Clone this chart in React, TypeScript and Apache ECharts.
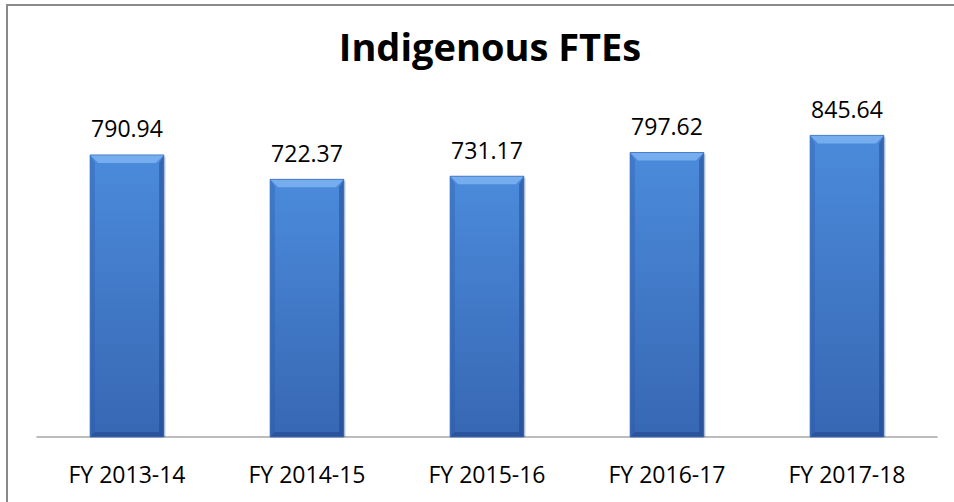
import React, { useEffect, useRef } from "react";
import * as echarts from "echarts";

const categories = ["FY 2013-14", "FY 2014-15", "FY 2015-16", "FY 2016-17", "FY 2017-18"];
const values = [790.94, 722.37, 731.17, 797.62, 845.64];
const titleText = "Indigenous FTEs";

const FONT = "'Open Sans', 'Noto Sans', sans-serif";

export default function App() {
  const ref = useRef<HTMLDivElement>(null);
  useEffect(() => {
    document.body.style.margin = "0";
    const chart = echarts.init(ref.current!, undefined, { renderer: "svg" });
    const bevel = 8;
    chart.setOption({
      animation: false,
      backgroundColor: "#ffffff",
      title: {
        text: titleText,
        left: 485,
        top: 22,
        textAlign: "center",
        textStyle: { fontFamily: FONT, fontWeight: "bold", fontSize: 38, color: "#000" },
      },
      graphic: [
        {
          type: "line",
          shape: { x1: 7, y1: 5, x2: 954, y2: 5 },
          style: { stroke: "#8a8a8a", lineWidth: 2 },
          silent: true,
        },
        {
          type: "line",
          shape: { x1: 7, y1: 4, x2: 7, y2: 502 },
          style: { stroke: "#8a8a8a", lineWidth: 2 },
          silent: true,
        },
      ],
      grid: { left: 37, right: 17, top: 116, bottom: 65 },
      xAxis: {
        type: "category",
        data: categories,
        axisLine: { show: true, lineStyle: { color: "#a6a6a6", width: 1.5 } },
        axisTick: { show: false },
        axisLabel: { fontFamily: FONT, fontSize: 23, color: "#000", margin: 25 },
      },
      yAxis: {
        type: "value",
        min: 0,
        max: 900,
        show: false,
        splitLine: { show: false },
      },
      series: [
        {
          type: "custom",
          data: values.map((v, i) => [i, v]),
          encode: { x: 0, y: 1 },
          renderItem: (params: any, api: any) => {
            const idx = api.value(0);
            const val = api.value(1);
            const top = api.coord([idx, val]);
            const base = api.coord([idx, 0]);
            const bw = api.size([1, 0])[0] * 0.41;
            const x0 = top[0] - bw / 2;
            const x1 = top[0] + bw / 2;
            const y0 = top[1];
            const y1 = base[1];
            const b = bevel;
            return {
              type: "group",
              children: [
                {
                  type: "rect",
                  shape: { x: x0 + 2, y: y0 + 2, width: bw, height: y1 - y0 - 2 },
                  style: { fill: "rgba(0,0,0,0.12)" },
                },
                {
                  type: "rect",
                  shape: { x: x0, y: y0, width: bw, height: y1 - y0 },
                  style: {
                    fill: new echarts.graphic.LinearGradient(0, 0, 0, 1, [
                      { offset: 0, color: "#4b8bdb" },
                      { offset: 1, color: "#3767b3" },
                    ]),
                  },
                },
                {
                  type: "polygon",
                  shape: { points: [[x0, y0], [x1, y0], [x1 - b, y0 + b], [x0 + b, y0 + b]] },
                  style: { fill: "#76adef" },
                },
                {
                  type: "polygon",
                  shape: { points: [[x0, y0], [x0 + b * 0.6, y0 + b], [x0 + b * 0.6, y1 - 4], [x0, y1]] },
                  style: { fill: "rgba(40,90,170,0.35)" },
                },
                {
                  type: "polygon",
                  shape: { points: [[x1, y0], [x1 - b * 0.6, y0 + b], [x1 - b * 0.6, y1 - 4], [x1, y1]] },
                  style: { fill: "rgba(25,60,130,0.45)" },
                },
                {
                  type: "polygon",
                  shape: { points: [[x0, y1], [x1, y1], [x1 - 5, y1 - 5], [x0 + 5, y1 - 5]] },
                  style: { fill: "rgba(25,55,120,0.4)" },
                },
                {
                  type: "rect",
                  shape: { x: x0, y: y0, width: bw, height: y1 - y0 },
                  style: { fill: "none", stroke: "#3a6fbf", lineWidth: 0.8 },
                },
                {
                  type: "text",
                  x: top[0],
                  y: y0 - 15,
                  style: {
                    text: Number(val).toFixed(2),
                    fontFamily: FONT,
                    fontSize: 23,
                    fill: "#000",
                    align: "center",
                    verticalAlign: "bottom",
                  },
                },
              ],
            };
          },
          z: 2,
        },
      ],
    });
    return () => chart.dispose();
  }, []);
  return (
    <div
      ref={ref}
      style={{ position: "absolute", left: 0, top: 0, width: 954, height: 502 }}
    />
  );
}
